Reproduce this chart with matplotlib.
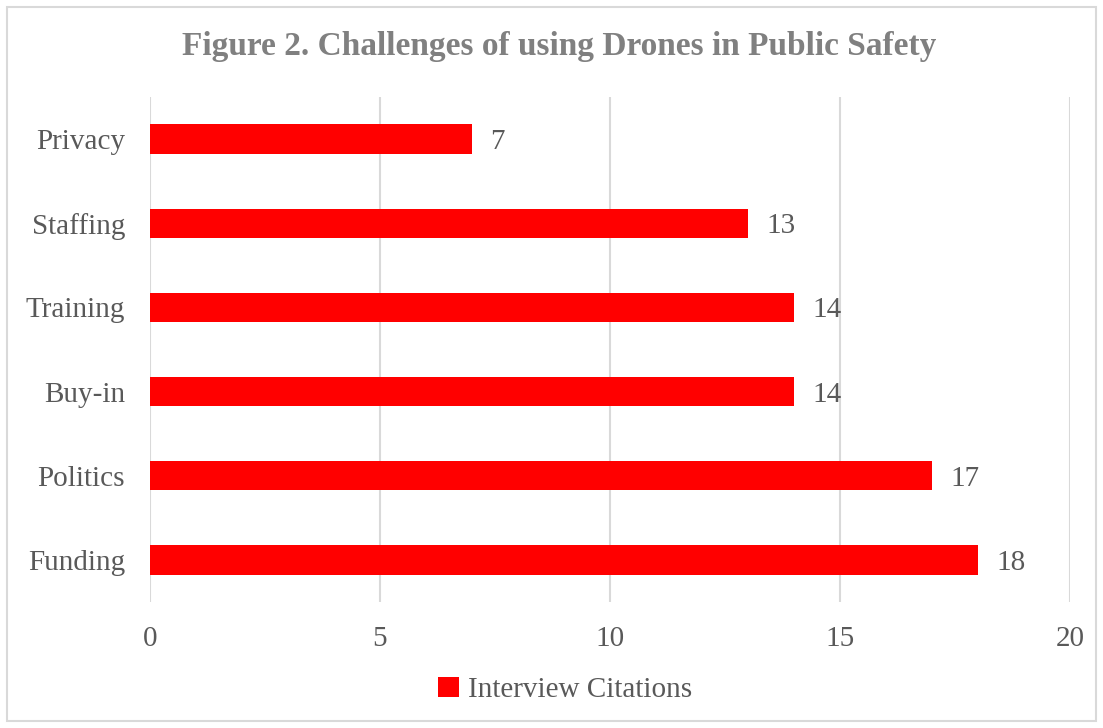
import matplotlib
matplotlib.use("Agg")
import matplotlib.pyplot as plt
from matplotlib.patches import Rectangle

categories = ["Funding", "Politics", "Buy-in", "Training", "Staffing", "Privacy"]
values = [18, 17, 14, 14, 13, 7]
xticks = [0, 5, 10, 15, 20]
series_name = "Interview Citations"
title = "Figure 2. Challenges of using Drones in Public Safety"

plt.rcParams['font.family'] = ['Liberation Serif', 'DejaVu Serif']
TXT = '#595959'
GRID = '#d9d9d9'
RED = '#ff0000'

W, H = 1103, 728
fig = plt.figure(figsize=(W / 100, H / 100), dpi=100)
ax = fig.add_axes([150 / W, 1 - 602 / H, (1070 - 150) / W, (602 - 97) / H])

y = list(range(len(categories)))
bars = ax.barh(y, values, height=0.35, color=RED, label=series_name, zorder=3)
ax.set_ylim(-0.5, len(categories) - 0.5)
ax.set_xlim(0, 20)
ax.set_xticks(xticks)
ax.set_yticks(y)
ax.set_yticklabels(categories)
ax.tick_params(axis='both', length=0, colors=TXT, labelsize=21)
ax.tick_params(axis='x', pad=17)
ax.tick_params(axis='y', pad=18)
ax.grid(axis='x', color=GRID, linewidth=1.5, zorder=0)
for s in ax.spines.values():
    s.set_visible(False)

for yi, v in zip(y, values):
    ax.annotate(str(v), (v, yi), xytext=(13, 0), textcoords='offset points',
                va='center_baseline', ha='left', fontsize=21, color=TXT)

fig.text(559 / W, 1 - 47 / H, title, ha='center', va='center',
         fontsize=24, fontweight='bold', color='#808080')

leg = fig.legend(handles=[bars], labels=[series_name], loc='center',
                 bbox_to_anchor=(565 / W, 1 - 690 / H), frameon=False,
                 fontsize=21, handlelength=0.7, handleheight=0.7,
                 handletextpad=0.3, labelcolor=TXT)

fig.add_artist(Rectangle((7 / W, 7 / H), (W - 14) / W, (H - 14) / H,
                         transform=fig.transFigure, fill=False,
                         edgecolor='#d9d9d9', linewidth=1.5))

fig.savefig("out.png", dpi=100)
